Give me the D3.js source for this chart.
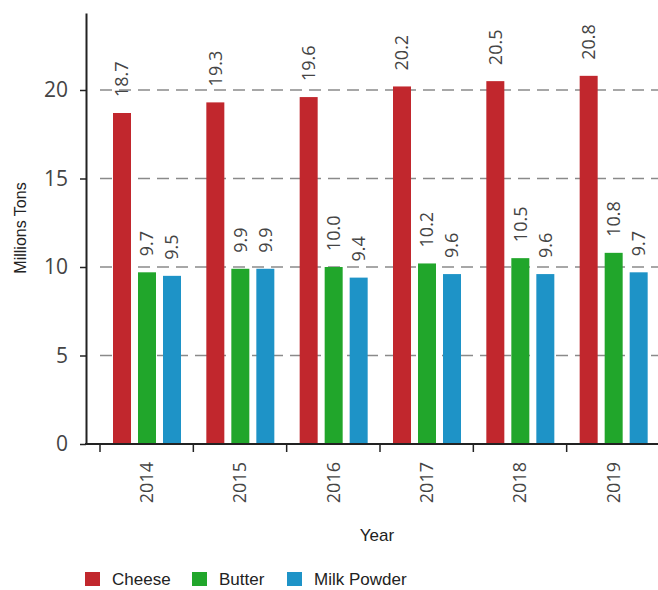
<!DOCTYPE html>
<html>
<head>
<meta charset="utf-8">
<script src="https://cdn.jsdelivr.net/npm/d3@7"></script>
<style>
  body { margin: 0; background: #fff; }
  svg { display: block; }
</style>
</head>
<body>
<svg id="chart" width="658" height="590"></svg>
<script>
const years = ['2014', '2015', '2016', '2017', '2018', '2019'];
const seriesNames = ['Cheese', 'Butter', 'Milk Powder'];
const cheese = [18.7, 19.3, 19.6, 20.2, 20.5, 20.8];
const butter = [9.7, 9.9, 10.0, 10.2, 10.5, 10.8];
const milkPowder = [9.5, 9.9, 9.4, 9.6, 9.6, 9.7];
const yTicks = [0, 5, 10, 15, 20];
const colors = ['#c1272d', '#21a62b', '#1e93c7'];

const svg = d3.select('#chart');
const values = [cheese, butter, milkPowder];
const data = years.map((y, i) => ({year: y, vals: seriesNames.map((s, j) => ({key: s, idx: j, v: values[j][i]}))}));

const x0 = d3.scaleBand().domain(years).range([100, 660]);
const x1 = d3.scaleBand().domain(seriesNames).range([13, 81]).paddingInner(0.28);
const y = d3.scaleLinear().domain([0, 24.35]).range([444, 13]);

// gridlines behind bars
svg.append('g').selectAll('line')
  .data(yTicks.filter(d => d > 0))
  .join('line')
    .attr('x1', 100).attr('x2', 658)
    .attr('y1', d => y(d)).attr('y2', d => y(d))
    .attr('stroke', '#8a8a8a')
    .attr('stroke-width', 1.5)
    .attr('stroke-dasharray', '12,7');

const groups = svg.append('g').selectAll('g')
  .data(data)
  .join('g')
    .attr('transform', d => `translate(${x0(d.year)},0)`);

groups.selectAll('rect')
  .data(d => d.vals)
  .join('rect')
    .attr('x', d => x1(d.key))
    .attr('y', d => y(d.v))
    .attr('width', x1.bandwidth())
    .attr('height', d => y(0) - y(d.v))
    .attr('fill', d => colors[d.idx]);

groups.selectAll('text')
  .data(d => d.vals)
  .join('text')
    .attr('transform', d => `translate(${x1(d.key) + x1.bandwidth() / 2},${y(d.v) - 16}) rotate(-90)`)
    .attr('dy', '0.35em')
    .attr('text-anchor', 'start')
    .attr('font-family', 'Open Sans, sans-serif')
    .attr('font-size', 18)
    .attr('fill', '#444')
    .text(d => d.v.toFixed(1));

// y axis
const yAxisG = svg.append('g')
  .attr('transform', 'translate(86,0)')
  .call(d3.axisLeft(y).tickValues(yTicks).tickSize(6).tickPadding(12).tickSizeOuter(0));
yAxisG.select('.domain').attr('stroke', '#222').attr('stroke-width', 2);
yAxisG.selectAll('.tick line').attr('stroke', '#222').attr('stroke-width', 1.5);
yAxisG.selectAll('text')
  .attr('font-family', 'Open Sans, sans-serif')
  .attr('font-size', 21)
  .attr('fill', '#444');

// x axis line from y axis to right edge
svg.append('line')
  .attr('x1', 85).attr('x2', 658)
  .attr('y1', 444).attr('y2', 444)
  .attr('stroke', '#222').attr('stroke-width', 2);

const xTickG = svg.append('g');
xTickG.selectAll('line')
  .data(years)
  .join('line')
    .attr('x1', d => x0(d)).attr('x2', d => x0(d))
    .attr('y1', 444).attr('y2', 452)
    .attr('stroke', '#222').attr('stroke-width', 1.5);

const xAxisG = svg.append('g')
  .attr('transform', 'translate(0,444)')
  .call(d3.axisBottom(x0).tickSize(0).tickPadding(0));
xAxisG.select('.domain').remove();
xAxisG.selectAll('text')
  .attr('transform', 'translate(0,18) rotate(-90)')
  .attr('y', 0)
  .attr('dy', '0.35em')
  .attr('text-anchor', 'end')
  .attr('font-family', 'Open Sans, sans-serif')
  .attr('font-size', 18)
  .attr('fill', '#444');

svg.append('text')
  .attr('x', 377).attr('y', 541)
  .attr('text-anchor', 'middle')
  .attr('font-family', 'Liberation Sans, Arial, sans-serif')
  .attr('font-size', 17)
  .attr('fill', '#222')
  .text('Year');

svg.append('text')
  .attr('transform', 'translate(26,228) rotate(-90)')
  .attr('text-anchor', 'middle')
  .attr('font-family', 'Liberation Sans, Arial, sans-serif')
  .attr('font-size', 16)
  .attr('fill', '#222')
  .text('Millions Tons');

// legend
const legendX = [85, 192, 287];
const legend = svg.append('g').selectAll('g')
  .data(seriesNames)
  .join('g')
    .attr('transform', (d, i) => `translate(${legendX[i]},572)`);
legend.append('rect')
  .attr('width', 15).attr('height', 14)
  .attr('fill', (d, i) => colors[i]);
legend.append('text')
  .attr('x', 27).attr('y', 7)
  .attr('dy', '0.35em')
  .attr('font-family', 'Liberation Sans, Arial, sans-serif')
  .attr('font-size', 17)
  .attr('fill', '#222')
  .text(d => d);
</script>
</body>
</html>
